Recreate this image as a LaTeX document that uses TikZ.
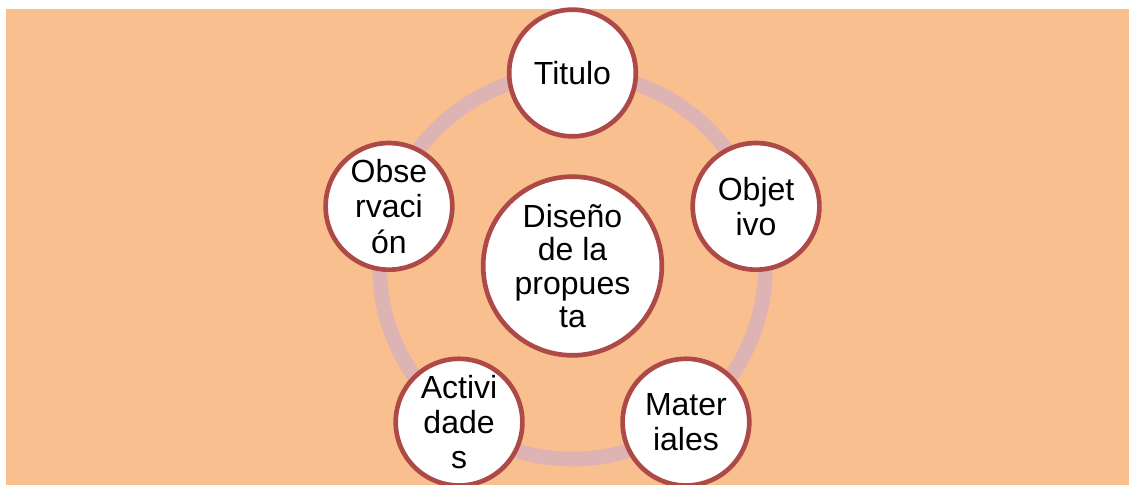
\documentclass[tikz,border=0pt]{standalone}
\usepackage{fontspec}
\setmainfont{Liberation Sans}
\usepackage{tikz}
\usetikzlibrary{positioning}
\definecolor{fondo}{HTML}{F9BF8F}
\definecolor{anillo}{HTML}{DDB3B3}
\definecolor{borde}{HTML}{AD4946}

\tikzset{
  etapa/.style = {circle, draw = borde, line width = 3.5pt, fill = white,
                  minimum size = 95pt, inner sep = 0pt, align = center,
                  font = \fontsize{24}{26.5}\selectfont},
  nucleo/.style = {etapa, minimum size = 134pt, font = \fontsize{24}{25}\selectfont}
}

\begin{document}
\begin{tikzpicture} [x = 0.75pt, y = 0.75pt]
\useasboundingbox (0,0) rectangle (1129,485);
\fill [fondo] (6,-2) rectangle (1131,476);
\node (centro) [nucleo] at (572.5,219) {Diseño\\de la\\propues\\ta};
\draw [anillo, line width = 11pt] (centro.center) circle [radius = 144.75pt];
% outer stages, one per pentagon corner
\node (titulo) [etapa] at ([shift={(90:193)}]centro.center) {Titulo};
\node (objetivo) [etapa] at ([shift={(18:193)}]centro.center) {Objet\\ivo};
\node (materiales) [etapa] at ([shift={(-54:193)}]centro.center) {Mater\\iales};
\node (actividades) [etapa] at ([shift={(-126:193)}]centro.center) {Activi\\dade\\s};
\node (observacion) [etapa] at ([shift={(162:193)}]centro.center) {Obse\\rvaci\\ón};
\end{tikzpicture}
\end{document}
